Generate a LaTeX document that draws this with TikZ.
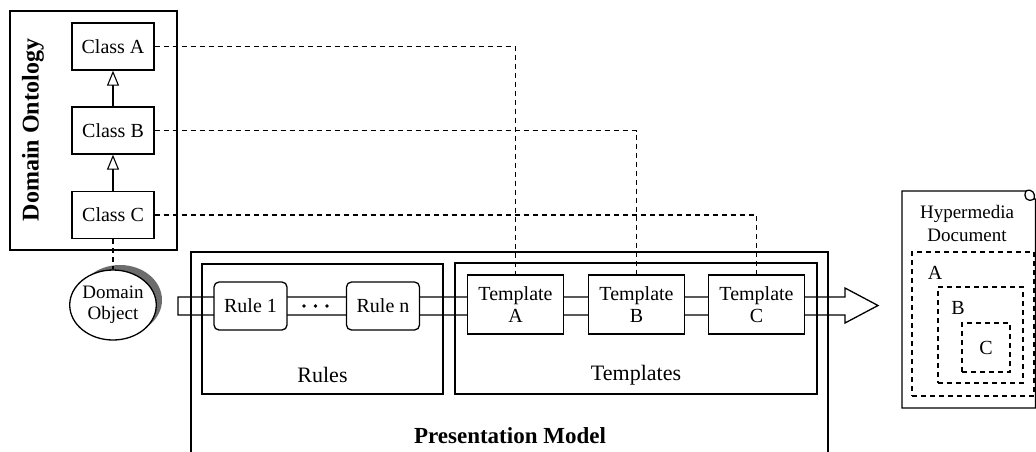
\documentclass[tikz,border=0pt]{standalone}
\usepackage{fontspec}
\setmainfont{Liberation Serif}
\usetikzlibrary{arrows.meta,shapes.geometric}

\begin{document}
\begin{tikzpicture}[x=1pt,y=-1pt,line width=1.3pt,font=\fontsize{20}{22}\selectfont,
  box/.style={draw,fill=white,inner sep=0pt,align=center},
  rulebox/.style={box,rounded corners=5pt,minimum width=73,minimum height=48},
  tplbox/.style={box,minimum width=96,minimum height=59},
  classbox/.style={box,minimum width=82,minimum height=47},
  linkdash/.style={dash pattern=on 5pt off 4pt},
  docbox/.style={draw,dash pattern=on 5pt off 4pt,inner sep=0pt}]
  \useasboundingbox (0,0) rectangle (1036,451);
  % domain ontology
  \node[draw,minimum width=167,minimum height=239,inner sep=0pt] (onto) at (93.5,130.5) {};
  \node[rotate=90,font=\fontsize{24}{26}\selectfont\bfseries] at (33,130) {Domain Ontology};
  \node[classbox] (ca) at (113,46.5) {Class A};
  \node[classbox] (cb) at (113,130.5) {Class B};
  \node[classbox] (cc) at (113,215) {Class C};
  \draw[-{Triangle[open,length=15pt,width=12pt,line width=1.1pt]}] (cb.north) -- (ca.south);
  \draw[-{Triangle[open,length=15pt,width=12pt,line width=1.1pt]}] (cc.north) -- (cb.south);
  % domain object
  \fill[gray!85!black] (120,300) ellipse (42 and 35);
  \node[draw,ellipse,fill=white,minimum width=84,minimum height=70,inner sep=0pt,align=center,
    font=\fontsize{19}{21}\selectfont] (obj) at (113,305) {Domain\\Object};
  \draw[linkdash] (cc.south) -- (obj.north);
  % presentation model
  \coordinate (pmbl) at (191,452);
  \coordinate (pmbr) at (828,452);
  \draw (pmbl) |- (828,252) -- (pmbr);
  \node[font=\fontsize{23}{25}\selectfont\bfseries] (pmlab) at (510,436) {Presentation Model};
  \node[draw,minimum width=241,minimum height=130,inner sep=0pt] (rules) at (322.5,329) {};
  \node[draw,minimum width=362,minimum height=131,inner sep=0pt] (tpls) at (636,328.5) {};
  \node[font=\fontsize{22}{24}\selectfont] at (322.5,375) {Rules};
  \node[font=\fontsize{22}{24}\selectfont] at (636,375) {Templates};
  % pipe with open head
  \coordinate (pin) at (178,306);
  \coordinate (pout) at (878,305.5);
  \draw (pin) ++(0,-9) -- (845,297) -- (845,288) -- (pout) -- (845,323) -- (845,315) -- (178,315) -- cycle;
  \node[rulebox] (r1) at (250.5,306) {Rule 1};
  \node[rulebox] (rn) at (383,306) {Rule n};
  \foreach \x in {304,315.5,327} \fill (\x,306) circle (1.8);
  \node[tplbox] (ta) at (515.5,304.5) {Template\\A};
  \node[tplbox] (tb) at (636.5,304.5) {Template\\B};
  \node[tplbox] (tc) at (756.5,304.5) {Template\\C};
  \draw[linkdash] (ca.east) -| (ta.north);
  \draw[linkdash] (cb.east) -| (tb.north);
  \draw[linkdash] (cc.east) -| (tc.north);
  % hypermedia document
  \draw (902,408) -- (902,191) -- (1026,191) .. controls (1032,188) and (1036,194) .. (1034,199)
    -- (1035.5,199) -- (1035.5,408) -- cycle;
  \draw (1026,191) .. controls (1023,197) and (1027,203) .. (1034,199);
  \node[align=center,font=\fontsize{19}{23}\selectfont] (doclab) at (967,223) {Hypermedia\\Document};
  \node[docbox,minimum width=122,minimum height=144] (da) at (973,324) {};
  \node[docbox,minimum width=85,minimum height=96] (db) at (980.5,335) {};
  \node[docbox,minimum width=48,minimum height=49] (dc) at (986,347.5) {C};
  \node at (935,273) {A};
  \node at (958,308) {B};
\end{tikzpicture}
\end{document}
